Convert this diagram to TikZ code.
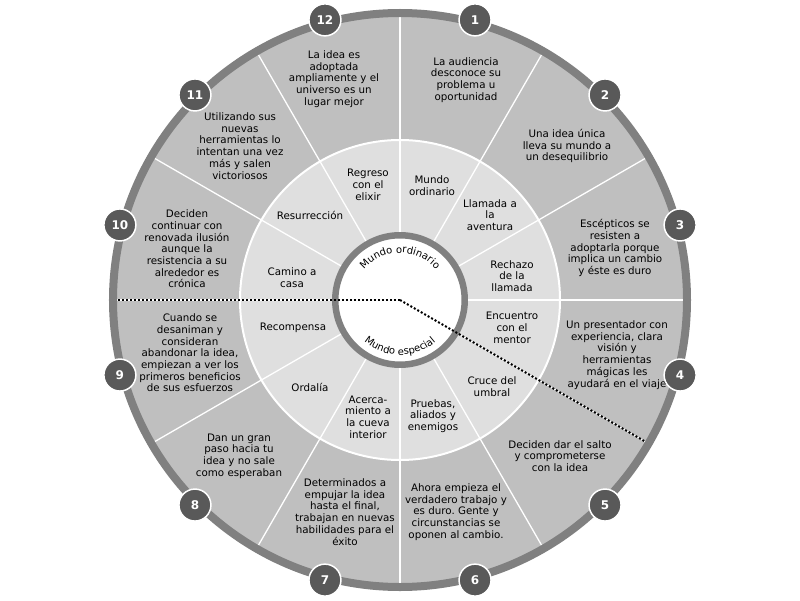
\documentclass[tikz,border=0pt]{standalone}
\usepackage{fontspec}
\setmainfont{DejaVu Sans}
\usetikzlibrary{decorations.text}
\frenchspacing
\definecolor{sectorgray}{HTML}{BFBFBF}
\definecolor{innergray}{HTML}{DFDFDF}
\definecolor{ringgray}{HTML}{808080}
\definecolor{numgray}{HTML}{595959}
\tikzset{
  label text/.style={align=center, inner sep=0pt, text=black, font=\fontsize{10.3}{11.7}\selectfont},
  numbadge/.style={circle, fill=numgray, draw=white, line width=1.5pt, minimum size=32pt, inner sep=0pt, text=white, font=\fontsize{12}{12}\selectfont\bfseries},
  divider/.style={white, line width=1.3pt},
  dotline/.style={black, line width=2pt, dash pattern=on 2pt off 2pt},
}
\begin{document}
\begin{tikzpicture}[x=1pt,y=1pt]
\useasboundingbox (-400,-300) rectangle (400,300);
\fill[white] (-400,-300) rectangle (400,300);
\coordinate (c) at (0,0);
% outer sectors
\fill[sectorgray] (c) circle (287);
\foreach \a in {0,30,...,330} \draw[divider] (\a:160) -- (\a:287);
% inner ring
\fill[innergray] (c) circle (160);
\draw[white, line width=2pt] (c) circle (160);
\foreach \a in {0,30,...,330} \draw[divider] (\a:64) -- (\a:160);
% outer stroke
\draw[ringgray, line width=8pt] (c) circle (287);
% inner white circle
\draw[ringgray, fill=white, line width=6.5pt] (c) circle (64.75);
% dotted lines
\coordinate (dleft) at (180:283);
\coordinate (dright) at (-30:283);
\draw[dotline] (c) -- (dleft);
\draw[dotline] (c) -- (dright);
% curved labels
\path[decorate, decoration={text along path, text align=center, text={|\fontsize{10}{10}\selectfont|Mundo ordinario}}] (155:47) arc[start angle=155, end angle=25, radius=47];
\path[decorate, decoration={text along path, text align=center, text={|\fontsize{10}{10}\selectfont|Mundo especial}}] (205:55) arc[start angle=205, end angle=335, radius=55];
% outer texts
\node[label text] (t1) at (66,220) {La audiencia\\desconoce su\\problema u\\oportunidad};
\node[label text] (t2) at (167,154) {Una idea única\\lleva su mundo a\\un desequilibrio};
\node[label text] (t3) at (215,52) {Escépticos se\\resisten a\\adoptarla porque\\implica un cambio\\y éste es duro};
\node[label text] (t4) at (217,-55) {Un presentador con\\experiencia, clara\\visión y\\herramientas\\mágicas les\\ayudará en el viaje};
\node[label text] (t5) at (160,-156) {Deciden dar el salto\\y comprometerse\\con la idea};
\node[label text] (t6) at (56,-212) {Ahora empieza el\\verdadero trabajo y\\es duro. Gente y\\circunstancias se\\oponen al cambio.};
\node[label text] (t7) at (-55,-212) {Determinados a\\empujar la idea\\hasta el final,\\trabajan en nuevas\\habilidades para el\\éxito};
\node[label text] (t8) at (-161,-156) {Dan un gran\\paso hacia tu\\idea y no sale\\como esperaban};
\node[label text] (t9) at (-210,-53) {Cuando se\\desaniman y\\consideran\\abandonar la idea,\\empiezan a ver los\\primeros beneficios\\de sus esfuerzos};
\node[label text] (t10) at (-213,51) {Deciden\\continuar con\\renovada ilusión\\aunque la\\resistencia a su\\alrededor es\\crónica};
\node[label text] (t11) at (-160,154) {Utilizando sus\\nuevas\\herramientas lo\\intentan una vez\\más y salen\\victoriosos};
\node[label text] (t12) at (-66,221) {La idea es\\adoptada\\ampliamente y el\\universo es un\\lugar mejor};
% inner texts
\node[label text] (i1) at (32,114) {Mundo\\ordinario};
\node[label text] (i2) at (90,85) {Llamada a\\la\\aventura};
\node[label text] (i3) at (112,24) {Rechazo\\de la\\llamada};
\node[label text] (i4) at (112,-28) {Encuentro\\con el\\mentor};
\node[label text] (i5) at (92,-87) {Cruce del\\umbral};
\node[label text] (i6) at (33,-116) {Pruebas,\\aliados y\\enemigos};
\node[label text] (i7) at (-32,-117) {Acerca-\\miento a\\la cueva\\interior};
\node[label text] (i8) at (-90,-87) {Ordalía};
\node[label text] (i9) at (-107,-28) {Recompensa};
\node[label text] (i10) at (-108,22) {Camino a\\casa};
\node[label text] (i11) at (-90,85) {Resurrección};
\node[label text] (i12) at (-32,115) {Regreso\\con el\\elixir};
% number badges
\foreach \n/\a in {1/75,2/45,3/15,4/-15,5/-45,6/-75,7/-105,8/-135,9/-165,10/165,11/135,12/105}
  \node[numbadge] (n\n) at (\a:290) {\n};
\end{tikzpicture}
\end{document}
